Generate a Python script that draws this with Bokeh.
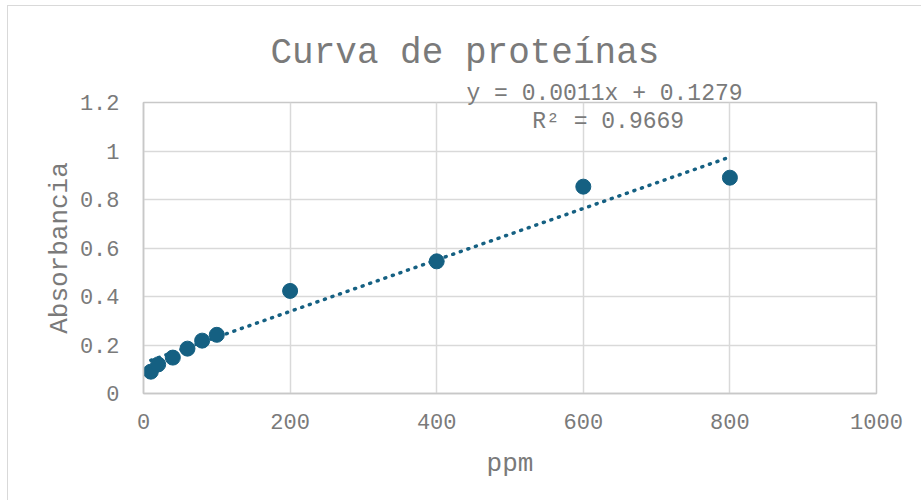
import numpy as np
from bokeh.plotting import figure
from bokeh.models import Label, FixedTicker, Range1d, Title
from bokeh.embed import file_html
from bokeh.resources import INLINE

# data
ppm = [10, 20, 40, 60, 80, 100, 200, 400, 600, 800]
absorbancia = [0.090, 0.120, 0.148, 0.185, 0.218, 0.242, 0.423, 0.545, 0.853, 0.890]
x_ticks = [0, 200, 400, 600, 800, 1000]
y_ticks = [0, 0.2, 0.4, 0.6, 0.8, 1.0, 1.2]
y_tick_labels = ["0", "0.2", "0.4", "0.6", "0.8", "1", "1.2"]
title_text = "Curva de proteínas"
eq_text = "y = 0.0011x + 0.1279"
r2_text = "R² = 0.9669"

FONT = "Liberation Mono"
TXT = "#7a7a7a"
BLUE = "#156082"
GRID = "#d9d9d9"

p = figure(width=914, height=495, output_backend="svg", toolbar_location=None,
           x_range=Range1d(0, 1000), y_range=Range1d(0, 1.2),
           min_border_left=135, min_border_right=46, min_border_top=96, min_border_bottom=108)
p.styles = {"margin-left": "7px", "margin-top": "5px",
            "border-left": "1.5px solid #d9d9d9", "border-top": "1.5px solid #d9d9d9"}
p.background_fill_color = "white"
p.border_fill_color = "white"
p.outline_line_color = "#c8c8c8"
p.outline_line_width = 1.5

p.title.text = title_text
p.title.text_font = FONT
p.title.text_font_size = "36px"
p.title.text_color = TXT
p.title.text_font_style = "normal"
p.title.align = "left"
p.title.offset = 127
p.title.standoff = 17

p.add_layout(Title(text=eq_text, text_font=FONT, text_font_size="23px", text_color=TXT,
                   text_font_style="normal", align="left", offset=323, standoff=-8), "above")

for ax in (p.xaxis[0], p.yaxis[0]):
    ax.axis_line_color = "#c8c8c8"
    ax.axis_line_width = 1.5
    ax.major_tick_line_color = None
    ax.minor_tick_line_color = None
    ax.major_label_text_font = FONT
    ax.major_label_text_font_size = "22px"
    ax.major_label_text_color = TXT
    ax.axis_label_text_font = FONT
    ax.axis_label_text_font_size = "26px"
    ax.axis_label_text_color = TXT
    ax.axis_label_text_font_style = "normal"

p.xaxis.ticker = FixedTicker(ticks=x_ticks)
p.yaxis.ticker = FixedTicker(ticks=y_ticks)
p.yaxis.major_label_overrides = {v: s for v, s in zip(y_ticks, y_tick_labels)}
p.xaxis.axis_label = "ppm"
p.yaxis.axis_label = "Absorbancia"
p.xaxis.major_label_standoff = 14
p.yaxis.major_label_standoff = 18
p.xaxis.axis_label_standoff = 17
p.yaxis.axis_label_standoff = 2

p.xgrid.grid_line_color = GRID
p.ygrid.grid_line_color = GRID
p.xgrid.grid_line_width = 1.5
p.ygrid.grid_line_width = 1.5

# trendline (least squares over data range)
m, b = np.polyfit(ppm, absorbancia, 1)
xt = [min(ppm), max(ppm)]
yt = [m * v + b for v in xt]
p.line(xt, yt, line_color=BLUE, line_width=3.5, line_dash="1 7", line_cap="round")

p.scatter(ppm, absorbancia, size=15, fill_color=BLUE, line_color=BLUE)

p.add_layout(Label(x=634, y=1.118, text=r2_text, text_font=FONT, text_font_size="23px",
                   text_color=TXT, text_align="center", text_baseline="middle"))

open("out.html", "w").write(file_html(p, INLINE))
